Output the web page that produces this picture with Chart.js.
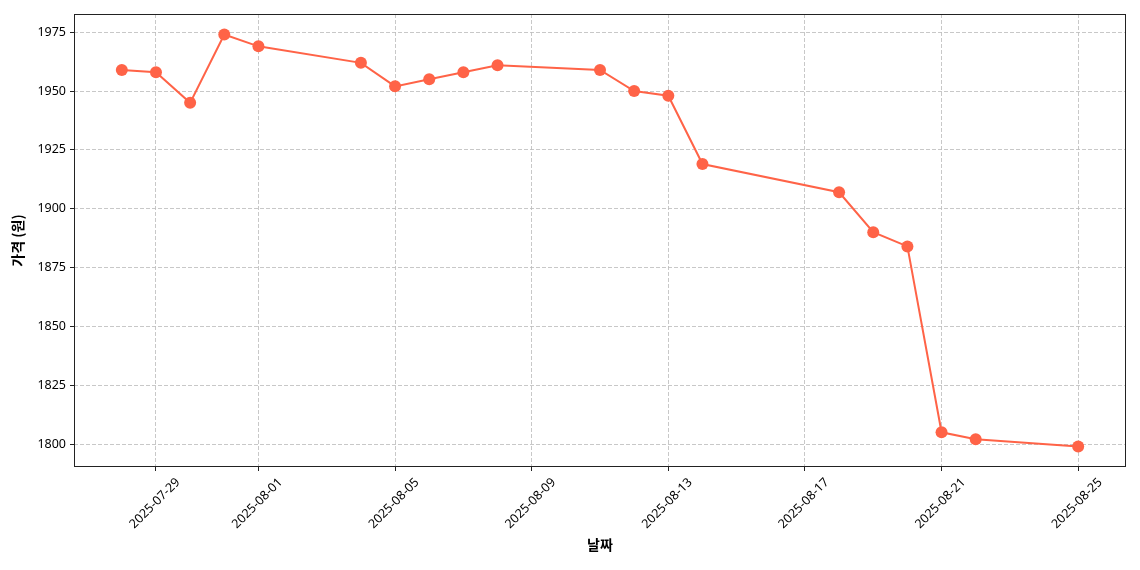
<!DOCTYPE html>
<html>
<head>
<meta charset="utf-8">
<script src="https://cdn.jsdelivr.net/npm/chart.js@4"></script>
<style>
  html, body { margin: 0; padding: 0; background: #fff; }
  #wrap { width: 1140px; height: 570px; }
</style>
</head>
<body>
<div id="wrap"><canvas id="myChart" width="1140" height="570"></canvas></div>
<script>
// DATA
const dates = ["2025-07-28", "2025-07-29", "2025-07-30", "2025-07-31", "2025-08-01",
	"2025-08-04", "2025-08-05", "2025-08-06", "2025-08-07", "2025-08-08",
	"2025-08-11", "2025-08-12", "2025-08-13", "2025-08-14", "2025-08-18",
	"2025-08-19", "2025-08-20", "2025-08-21", "2025-08-22", "2025-08-25"];
const prices = [1959, 1958, 1945, 1974, 1969,
	1962, 1952, 1955, 1958, 1961,
	1959, 1950, 1948, 1919, 1907,
	1890, 1884, 1805, 1802, 1799];
const xTickDates = ["2025-07-29", "2025-08-01", "2025-08-05", "2025-08-09",
	"2025-08-13", "2025-08-17", "2025-08-21", "2025-08-25"];
const yTicks = [1800, 1825, 1850, 1875, 1900, 1925, 1950, 1975];

// day numbers (linear x axis, no date adapter needed)
const DAY = 86400000;
const base = Date.UTC(2025, 6, 28);
function toDay(s) {
	const p = s.split("-");
	return (Date.UTC(+p[0], +p[1] - 1, +p[2]) - base) / DAY;
}
function dayLabel(d) {
	return new Date(base + Math.round(d) * DAY).toISOString().slice(0, 10);
}

const points = dates.map((d, i) => ({ x: toDay(d), y: prices[i] }));
const xs = points.map(p => p.x);
const xSpan = Math.max(...xs) - Math.min(...xs);
const ySpan = Math.max(...prices) - Math.min(...prices);

const FONT = "'Noto Sans', 'Noto Sans CJK KR', sans-serif";
const TITLE_FONT = "'Noto Sans CJK KR', 'Noto Sans', sans-serif";

// frame round the plot area (solid, all four sides)
const framePlugin = {
	id: "frame",
	afterDraw(chart) {
		const a = chart.chartArea;
		const ctx = chart.ctx;
		ctx.save();
		ctx.strokeStyle = "#222";
		ctx.lineWidth = 1;
		ctx.setLineDash([]);
		ctx.strokeRect(a.left + 0.5, a.top + 0.5, a.right - a.left - 1, a.bottom - a.top - 1);
		ctx.restore();
	}
};

const gridOpts = {
	color: "rgba(190,190,190,0.85)",
	tickColor: "#222",
	tickLength: 4,
	tickBorderDash: [],
	lineWidth: 1
};
// dash here sets the grid line dashes; the axis line itself is drawn by the frame plugin
const borderOpts = { display: false, dash: [4, 2] };

const config = {
	type: "line",
	data: {
		datasets: [{
			data: points,
			borderColor: "#ff6347",
			backgroundColor: "#ff6347",
			borderWidth: 2,
			pointRadius: 6,
			pointHoverRadius: 6,
			pointBorderWidth: 0,
			tension: 0
		}]
	},
	options: {
		responsive: false,
		animation: false,
		layout: { padding: { top: 14, right: 14, left: 0, bottom: 0 } },
		plugins: { legend: { display: false }, tooltip: { enabled: false } },
		scales: {
			x: {
				type: "linear",
				min: Math.min(...xs) - xSpan * 0.05,
				max: Math.max(...xs) + xSpan * 0.05,
				afterBuildTicks(scale) {
					scale.ticks = xTickDates.map(d => ({ value: toDay(d) }));
				},
				afterFit(scale) { scale.height = 103; },
				grid: gridOpts,
				border: borderOpts,
				ticks: {
					color: "#000",
					font: { family: FONT, size: 12.5 },
					minRotation: 45,
					maxRotation: 45,
					padding: 4,
					labelOffset: 22,
					autoSkip: false,
					callback: v => dayLabel(v)
				},
				title: {
					display: true,
					text: "날짜",
					color: "#000",
					font: { family: TITLE_FONT, size: 14, weight: "bold" },
					padding: { top: 0, bottom: 17 }
				}
			},
			y: {
				min: Math.min(...prices) - ySpan * 0.05,
				max: Math.max(...prices) + ySpan * 0.05,
				afterBuildTicks(scale) {
					scale.ticks = yTicks.map(v => ({ value: v }));
				},
				afterFit(scale) { scale.width = 74; },
				grid: gridOpts,
				border: borderOpts,
				ticks: {
					color: "#000",
					font: { family: FONT, size: 12.5 },
					padding: 4,
					callback: v => String(v)
				},
				title: {
					display: true,
					text: "가격 (원)",
					color: "#000",
					font: { family: TITLE_FONT, size: 14, weight: "bold" },
					padding: { top: 9, bottom: 0 }
				}
			}
		}
	},
	plugins: [framePlugin]
};

// RENDER
new Chart(document.getElementById("myChart"), config);
</script>
</body>
</html>
